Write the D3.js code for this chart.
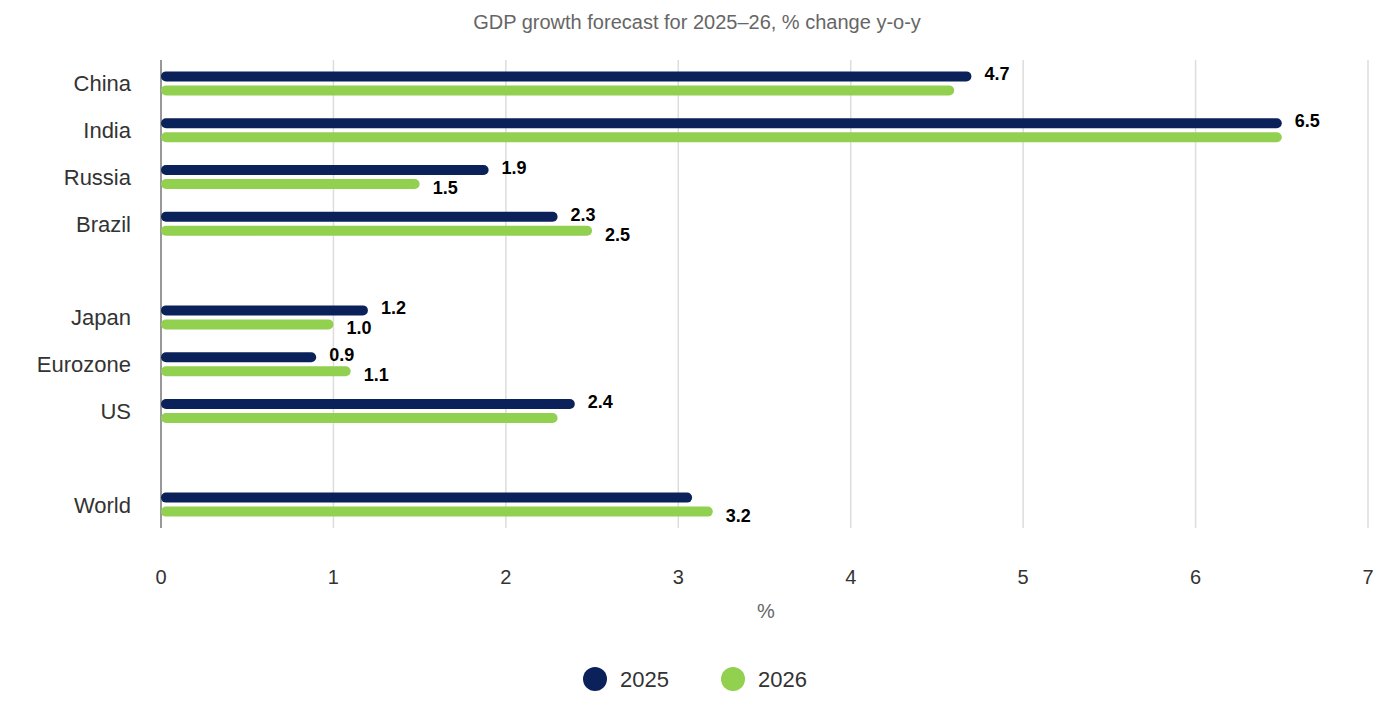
<html>
<head>
<script src="https://cdn.jsdelivr.net/npm/d3@7/dist/d3.min.js"></script>
<style>body{margin:0;background:#fff;font-family:Arial,"Liberation Sans",sans-serif}</style>
</head>
<body>
<svg width="1394" height="716"></svg>
<script>
// data
const categories = ["China","India","Russia","Brazil","gap1","Japan","Eurozone","US","gap2","World"]
const values2025 = [4.7,6.5,1.9,2.3,null,1.2,0.9,2.4,null,3.08]
const values2026 = [4.6,6.5,1.5,2.5,null,1.0,1.1,2.3,null,3.2]
const labels2025 = ["4.7","6.5","1.9","2.3",null,"1.2","0.9","2.4",null,null]
const labels2026 = [null,null,"1.5","2.5",null,"1.0","1.1",null,null,"3.2"]
const xTicks = [0,1,2,3,4,5,6,7]
const colors = {"2025":"#0b2159","2026":"#92d050"}

const svg = d3.select("svg")
const x = d3.scaleLinear().domain([0,7]).range([161,1368])
const y = d3.scaleBand().domain(categories).range([60,528])

svg.append("text").attr("x",697).attr("y",29).attr("text-anchor","middle")
   .attr("font-size",20).attr("fill","#666").text("GDP growth forecast for 2025–26, % change y-o-y")

// grid
svg.selectAll(".grid").data(xTicks.slice(1)).enter().append("line")
   .attr("x1",d=>x(d)).attr("x2",d=>x(d)).attr("y1",60).attr("y2",528)
   .attr("stroke","#ddd").attr("stroke-width",1.5)
svg.append("line").attr("x1",x(0)).attr("x2",x(0)).attr("y1",60).attr("y2",528).attr("stroke","#333")

svg.selectAll(".tick").data(xTicks).enter().append("text")
   .attr("x",d=>x(d)).attr("y",584).attr("text-anchor","middle")
   .attr("font-size",20).attr("fill","#333").text(d=>d)
svg.append("text").attr("x",766).attr("y",618).attr("text-anchor","middle")
   .attr("font-size",20).attr("fill","#666").text("%")

categories.forEach((c,i)=>{
  if(c.startsWith("gap")) return
  const cy = y(c)+y.bandwidth()/2
  svg.append("text").attr("x",131).attr("y",cy+8).attr("text-anchor","end")
     .attr("font-size",22).attr("fill","#333").text(c)
  const series = [[values2025[i],labels2025[i],"2025",-7],[values2026[i],labels2026[i],"2026",7]]
  series.forEach(s=>{
    const by = cy+s[3]
    svg.append("line").attr("x1",x(0)+5).attr("x2",x(s[0])-5).attr("y1",by).attr("y2",by)
       .attr("stroke",colors[s[2]]).attr("stroke-width",10).attr("stroke-linecap","round")
    if(s[1]){
      svg.append("text").attr("x",x(s[0])+13).attr("y",by+(s[2]=="2025"?4:10))
         .attr("font-size",18).attr("font-weight","bold").attr("fill","#000").text(s[1])
    }
  })
})

// legend
;[["2025",595],["2026",733]].forEach(l=>{
  svg.append("circle").attr("cx",l[1]).attr("cy",679).attr("r",12).attr("fill",colors[l[0]])
  svg.append("text").attr("x",l[1]+25).attr("y",687).attr("font-size",22).attr("fill","#333").text(l[0])
})
</script>
</body>
</html>
